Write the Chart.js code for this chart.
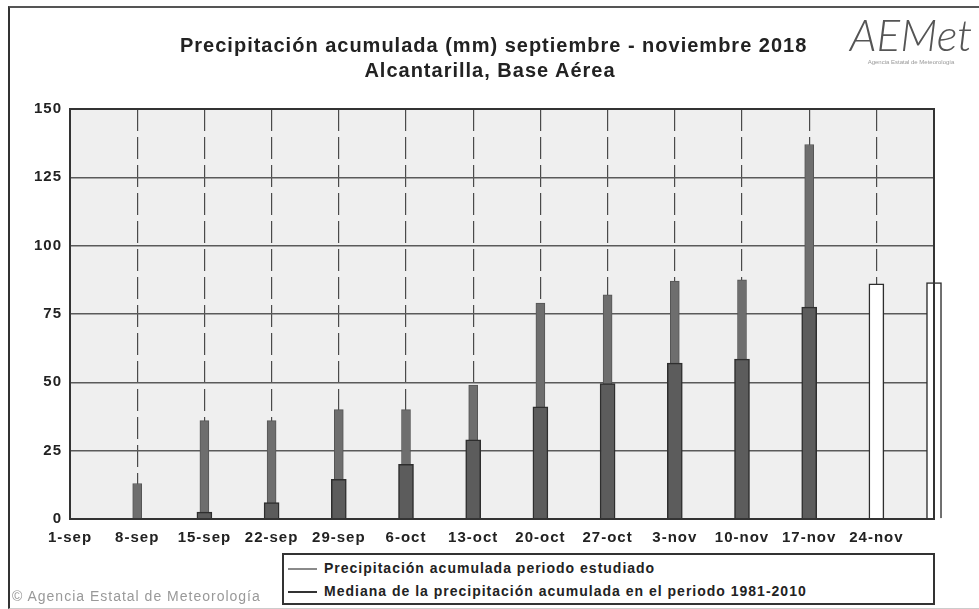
<!DOCTYPE html>
<html>
<head>
<meta charset="utf-8">
<script src="https://cdn.jsdelivr.net/npm/chart.js@4.4.0/dist/chart.umd.min.js"></script>
<style>
  html, body { margin: 0; padding: 0; background: #fff; }
  #wrap { position: relative; width: 979px; height: 609px; overflow: hidden; font-family: "Liberation Sans", Arial, sans-serif; }
  #frame { position: absolute; left: 8px; top: 6px; width: 975px; height: 600px; border-left: 2px solid #333; border-top: 2px solid #555; border-bottom: 1px solid #ccc; }
  #title { position: absolute; left: 180px; top: 33px; width: 620px; text-align: center; font-size: 20px; line-height: 25px; font-weight: bold; color: #222; letter-spacing: 1px; white-space: nowrap; }
  #logo { position: absolute; left: 846px; top: 10px; width: 130px; text-align: center; color: #555; }
  #logo .big { font-family: "Lato", sans-serif; font-weight: 300; font-style: italic; font-size: 44px; line-height: 48px; }
  #logo .small { font-size: 6px; color: #999; margin-top: 1px; white-space: nowrap; }
  #legend { position: absolute; left: 282px; top: 553px; width: 649px; height: 48px; border: 2px solid #333; background: #fff; font-size: 14px; font-weight: bold; color: #222; letter-spacing: 1px; }
  #legend .item { position: absolute; left: 4px; height: 20px; line-height: 20px; white-space: nowrap; }
  #legend .item span { display: inline-block; width: 29px; height: 2px; vertical-align: middle; margin-right: 7px; }
  #copy { position: absolute; left: 12px; top: 588px; font-size: 14px; color: #999; letter-spacing: 1px; }
  canvas { position: absolute; left: 0; top: 0; }
</style>
</head>
<body>
<div id="wrap">
  <div id="frame"></div>
  <canvas id="myChart" width="979" height="609"></canvas>
  <div id="title">Precipitación acumulada (mm) septiembre - noviembre 2018<br>Alcantarilla, Base Aérea</div>
  <div id="logo"><div class="big">AEMet</div><div class="small">Agencia Estatal de Meteorología</div></div>
  <div id="legend">
    <div class="item" style="top:3px"><span style="background:#8a8a8a"></span>Precipitación acumulada periodo estudiado</div>
    <div class="item" style="top:26px"><span style="background:#333"></span>Mediana de la precipitación acumulada en el periodo 1981-2010</div>
  </div>
  <div id="copy">&#169; Agencia Estatal de Meteorología</div>
</div>
<script>
var tickLabels = ['1-sep', '8-sep', '15-sep', '22-sep', '29-sep', '6-oct', '13-oct', '20-oct', '27-oct', '3-nov', '10-nov', '17-nov', '24-nov'];
var tickDays = [0, 7, 14, 21, 28, 35, 42, 49, 56, 63, 70, 77, 84];

// days since 1-sep for each bar (last one is 30-nov)
var barDays = [7, 14, 21, 28, 35, 42, 49, 56, 63, 70, 77, 84, 90];
var studied = [13, 36, 36, 40, 40, 49, 79, 82, 87, 87.5, 137, null, null];
var median = [0, 2.5, 6, 14.5, 20, 29, 41, 49.5, 57, 58.5, 77.5, 86, 86.5];

function points(values) {
    return barDays.map(function (d, i) { return { x: d, y: values[i] }; });
}

var plotBg = {
    id: 'plotBg',
    beforeUpdate: function (chart) {
        chart.ctx.letterSpacing = '1px';
    },
    beforeDraw: function (chart) {
        var a = chart.chartArea, c = chart.ctx;
        c.letterSpacing = '1px';
        c.save();
        c.fillStyle = '#efefef';
        c.fillRect(a.left, a.top, a.right - a.left, a.bottom - a.top);
        c.restore();
    },
    afterDraw: function (chart) {
        var a = chart.chartArea, c = chart.ctx;
        c.save();
        c.strokeStyle = '#333';
        c.lineWidth = 2;
        c.strokeRect(a.left, a.top, a.right - a.left, a.bottom - a.top);
        c.restore();
    }
};

var ctx = document.getElementById('myChart').getContext('2d');

var chart = new Chart(ctx, {
    type: 'bar',
    data: {
        datasets: [{
            label: 'Precipitación acumulada periodo estudiado',
            data: points(studied),
            backgroundColor: '#6e6e6e',
            borderColor: '#555',
            borderWidth: 1,
            barThickness: 9,
            grouped: false,
            order: 2,
            clip: false
        }, {
            label: 'Mediana de la precipitación acumulada en el periodo 1981-2010',
            data: points(median),
            backgroundColor: function (c) {
                return studied[c.dataIndex] == null ? '#ffffff' : '#5c5c5c';
            },
            borderColor: '#2e2e2e',
            borderWidth: 1.5,
            barThickness: 15,
            grouped: false,
            order: 1,
            clip: false
        }]
    },
    options: {
        responsive: false,
        animation: false,
        layout: {
            padding: { left: 8, right: 45, top: 109, bottom: 52 }
        },
        plugins: {
            legend: { display: false },
            tooltip: { enabled: false }
        },
        scales: {
            x: {
                type: 'linear',
                min: 0,
                max: 90,
                offset: false,
                afterBuildTicks: function (scale) {
                    scale.ticks = tickDays.map(function (v) { return { value: v }; });
                },
                ticks: {
                    autoSkip: false,
                    maxRotation: 0,
                    padding: 10,
                    color: '#222',
                    font: { family: 'Liberation Sans', size: 15, weight: 'bold' },
                    callback: function (v) { return tickLabels[tickDays.indexOf(v)]; }
                },
                grid: {
                    offset: false,
                    drawTicks: false,
                    color: function (c) { return c.tick && c.tick.value === 0 ? 'rgba(0,0,0,0)' : '#4a4a4a'; },
                    lineWidth: 1.2
                },
                border: { display: false, dash: [22, 6] }
            },
            y: {
                min: 0,
                max: 150,
                afterFit: function (scale) { scale.width = 62; },
                ticks: {
                    stepSize: 25,
                    padding: 8,
                    color: '#222',
                    font: { family: 'Liberation Sans', size: 15, weight: 'bold' }
                },
                grid: {
                    drawTicks: false,
                    color: '#5a5a5a',
                    lineWidth: 1.5
                },
                border: { display: false }
            }
        }
    },
    plugins: [plotBg]
});
</script>
</body>
</html>
